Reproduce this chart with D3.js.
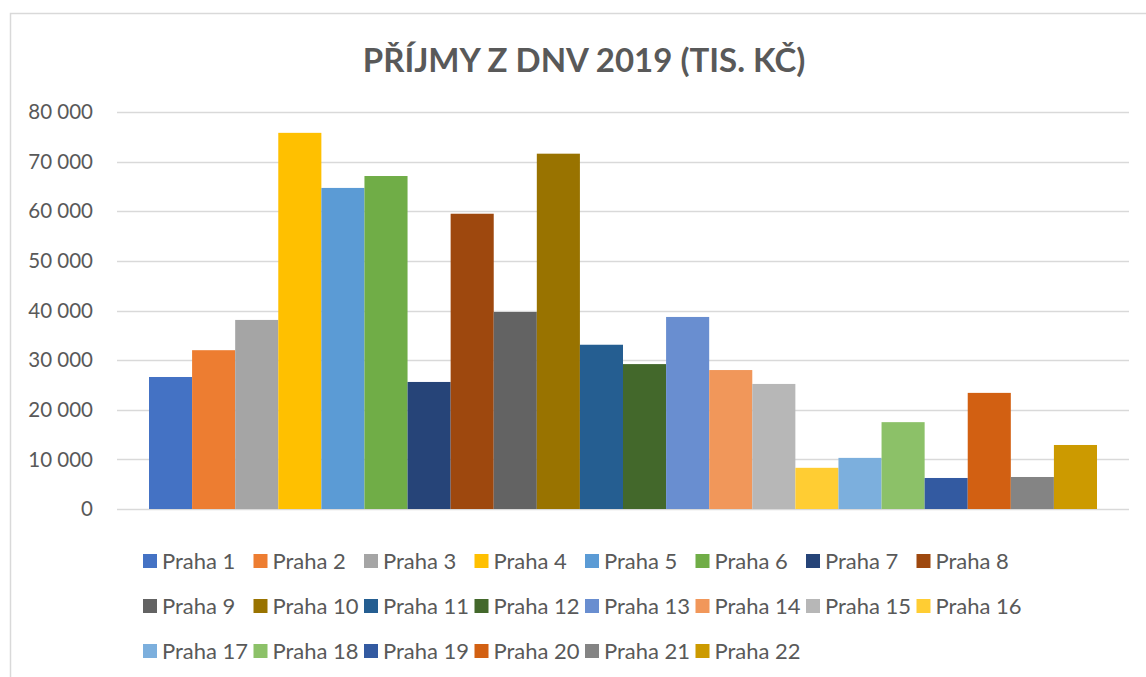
<!DOCTYPE html>
<html>
<head>
<meta charset="utf-8">
<script src="https://cdn.jsdelivr.net/npm/d3@7"></script>
<style>
  body { margin: 0; background: #fff; }
  text { font-family: Lato, "Open Sans", sans-serif; fill: #595959; }
</style>
</head>
<body>
<script>
// data
const districts = ["Praha 1", "Praha 2", "Praha 3", "Praha 4", "Praha 5", "Praha 6", "Praha 7", "Praha 8",
  "Praha 9", "Praha 10", "Praha 11", "Praha 12", "Praha 13", "Praha 14", "Praha 15", "Praha 16",
  "Praha 17", "Praha 18", "Praha 19", "Praha 20", "Praha 21", "Praha 22"];
const income = [26600, 32000, 38100, 75800, 64700, 67100, 25600, 59500,
  39700, 71600, 33100, 29200, 38700, 28000, 25200, 8300,
  10300, 17500, 6250, 23400, 6450, 12900];
const colors = ["#4472C4", "#ED7D31", "#A5A5A5", "#FFC000", "#5B9BD5", "#70AD47", "#264478", "#9E480E",
  "#636363", "#997300", "#255E91", "#43682B", "#698ED0", "#F1975A", "#B7B7B7", "#FFCD33",
  "#7CAFDD", "#8CC168", "#335AA1", "#D26012", "#848484", "#CC9A00"];
const yTicks = [0, 10000, 20000, 30000, 40000, 50000, 60000, 70000, 80000];
const title = "PŘÍJMY Z DNV 2019 (TIS. KČ)";

const W = 1146, H = 677;
const svg = d3.select("body").append("svg").attr("width", W).attr("height", H);

// chart border (cut off at right / bottom like the screenshot)
svg.append("rect")
  .attr("x", 10.5).attr("y", 13.5)
  .attr("width", W + 20).attr("height", H + 20)
  .attr("fill", "none").attr("stroke", "#d9d9d9").attr("stroke-width", 1.5);

svg.append("text")
  .attr("x", 584).attr("y", 72)
  .attr("text-anchor", "middle")
  .style("font-size", "33px").style("font-weight", "bold")
  .text(title);

const plotLeft = 117, plotRight = 1129;
const y = d3.scaleLinear().domain([0, 80000]).range([509, 112]);
const x = d3.scaleBand().domain(districts).range([149, 1097]).padding(0);

const fmt = d => d3.format(",")(d).replace(/,/g, " ");

// gridlines
svg.append("g")
  .selectAll("line")
  .data(yTicks)
  .join("line")
  .attr("x1", plotLeft).attr("x2", plotRight)
  .attr("y1", d => Math.round(y(d)) + 0.5).attr("y2", d => Math.round(y(d)) + 0.5)
  .attr("stroke", "#d9d9d9").attr("stroke-width", 1.5);

// y axis labels
svg.append("g")
  .selectAll("text")
  .data(yTicks)
  .join("text")
  .attr("x", 93).attr("y", d => y(d))
  .attr("dy", "0.35em")
  .attr("text-anchor", "end")
  .style("font-size", "20.5px")
  .text(fmt);

// bars
svg.append("g")
  .selectAll("rect")
  .data(districts)
  .join("rect")
  .attr("x", d => x(d))
  .attr("width", x.bandwidth())
  .attr("y", (d, i) => y(income[i]))
  .attr("height", (d, i) => y(0) - y(income[i]))
  .attr("fill", (d, i) => colors[i]);

// legend: grid of 8 columns
const colW = 110.5, rowH = 45, legX = 143, legY = 554;
const leg = svg.append("g")
  .selectAll("g")
  .data(districts)
  .join("g")
  .attr("transform", (d, i) => `translate(${legX + (i % 8) * colW},${legY + Math.floor(i / 8) * rowH})`);

leg.append("rect")
  .attr("width", 14).attr("height", 14)
  .attr("fill", (d, i) => colors[i]);

leg.append("text")
  .attr("x", 19).attr("y", 7)
  .attr("dy", "0.36em")
  .style("font-size", "22px")
  .text(d => d);
</script>
</body>
</html>
